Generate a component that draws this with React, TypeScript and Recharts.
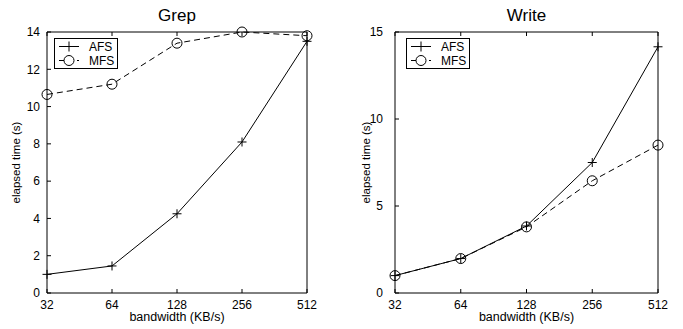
import { LineChart, Line, XAxis, YAxis, Legend, Label } from "recharts";

const FONT = "'Liberation Sans', Arial, Helvetica, sans-serif";

const bandwidth = ["32", "64", "128", "256", "512"];
const grepAfs = [1.0, 1.45, 4.25, 8.1, 13.5];
const grepMfs = [10.65, 11.2, 13.4, 14.0, 13.8];
const writeAfs = [1.0, 1.98, 3.85, 7.5, 14.15];
const writeMfs = [1.0, 1.98, 3.8, 6.45, 8.5];
const grepTicks = [0, 2, 4, 6, 8, 10, 12, 14];
const writeTicks = [0, 5, 10, 15];

const PlusDot = (p: any) => {
  const { cx, cy, index } = p;
  if (cx == null || cy == null) return <g key={`p-${index}`} />;
  return (
    <path
      key={`p-${index}`}
      d={`M${cx - 4.5},${cy}H${cx + 4.5}M${cx},${cy - 4.5}V${cy + 4.5}`}
      stroke="#000"
      strokeWidth={1}
      fill="none"
    />
  );
};

const CircleDot = (p: any) => {
  const { cx, cy, index } = p;
  if (cx == null || cy == null) return <g key={`c-${index}`} />;
  return <circle key={`c-${index}`} cx={cx} cy={cy} r={5} stroke="#000" strokeWidth={1} fill="none" />;
};

const LegendBox = ({ payload }: any) => (
  <svg width={64} height={31} style={{ display: "block" }}>
    <rect x={0.5} y={0.5} width={63} height={30} fill="#fff" stroke="#000" />
    {(payload || []).map((entry: any, i: number) => {
      const y = 8.5 + i * 14;
      const isMfs = entry.value === "MFS";
      return (
        <g key={entry.value}>
          <line x1={5} x2={25} y1={y} y2={y} stroke="#000" strokeDasharray={isMfs ? "5 4" : undefined} />
          {isMfs ? (
            <circle cx={15} cy={y} r={5} fill="#fff" stroke="#000" />
          ) : (
            <path d={`M15,${y - 5}V${y + 5}`} stroke="#000" />
          )}
          <text x={35} y={y + 4.5} fontSize={12} fontFamily={FONT} fill="#000">
            {entry.value}
          </text>
        </g>
      );
    })}
  </svg>
);

type PanelProps = {
  title: string;
  afs: number[];
  mfs: number[];
  yMax: number;
  yTicks: number[];
  left: number;
  width: number;
  yAxisW: number;
  rightW: number;
  yTickMargin: number;
  yLabelX: number;
  legendLeft: number;
};

function Panel({ title, afs, mfs, yMax, yTicks, left, width, yAxisW, rightW, yTickMargin, yLabelX, legendLeft }: PanelProps) {
  const data = bandwidth.map((bw, i) => ({ bw, afs: afs[i], mfs: mfs[i] }));
  const plotTop = 32;
  const plotBottom = 293;
  const centerX = (yAxisW + (width - rightW)) / 2;
  const tickStyle = { fontSize: 12, fill: "#000", fontFamily: FONT };
  return (
    <div style={{ position: "absolute", left, top: 0 }}>
      <LineChart width={width} height={329} data={data} margin={{ top: plotTop - 1, right: 0, bottom: 0, left: 0 }}>
        <XAxis
          dataKey="bw"
          type="category"
          height={329 - plotBottom}
          interval={0}
          stroke="#000"
          tickSize={-4}
          tickMargin={11}
          tick={tickStyle}
        >
          <Label
            content={() => (
              <text x={centerX} y={321} textAnchor="middle" fontSize={12.5} fontFamily={FONT} fill="#000">
                bandwidth (KB/s)
              </text>
            )}
          />
        </XAxis>
        <XAxis
          xAxisId="top"
          dataKey="bw"
          type="category"
          orientation="top"
          height={1}
          interval={0}
          stroke="#000"
          tickSize={-4}
          tick={() => <g />}
        >
          <Label
            content={() => (
              <text x={centerX} y={21} textAnchor="middle" fontSize={17} fontFamily={FONT} fill="#000">
                {title}
              </text>
            )}
          />
        </XAxis>
        <YAxis
          width={yAxisW}
          domain={[0, yMax]}
          ticks={yTicks}
          interval={0}
          stroke="#000"
          tickSize={-4}
          tickMargin={yTickMargin}
          tick={tickStyle}
        >
          <Label
            content={() => {
              const cy = (plotTop + plotBottom) / 2;
              return (
                <text
                  x={yLabelX}
                  y={cy}
                  transform={`rotate(-90 ${yLabelX} ${cy})`}
                  textAnchor="middle"
                  fontSize={11.5}
                  fontFamily={FONT}
                  fill="#000"
                >
                  elapsed time (s)
                </text>
              );
            }}
          />
        </YAxis>
        <YAxis
          yAxisId="right"
          orientation="right"
          width={rightW}
          domain={[0, yMax]}
          ticks={yTicks}
          interval={0}
          stroke="#000"
          tickSize={-4}
          tick={() => <g />}
        />
        <Legend
          layout="vertical"
          align="center"
          verticalAlign="middle"
          wrapperStyle={{ left: legendLeft, top: 38, width: 64, height: 31 }}
          content={(props: any) => <LegendBox payload={props.payload} />}
        />
        <Line
          name="AFS"
          dataKey="afs"
          type="linear"
          stroke="#000"
          strokeWidth={1}
          dot={PlusDot}
          activeDot={false}
          isAnimationActive={false}
        />
        <Line
          name="MFS"
          dataKey="mfs"
          type="linear"
          stroke="#000"
          strokeWidth={1}
          strokeDasharray="6 4"
          dot={CircleDot}
          activeDot={false}
          isAnimationActive={false}
        />
      </LineChart>
    </div>
  );
}

export default function App() {
  return (
    <div style={{ position: "absolute", left: 0, top: 0, width: 683, height: 329, background: "#fff" }}>
      <Panel
        title="Grep"
        afs={grepAfs}
        mfs={grepMfs}
        yMax={14}
        yTicks={grepTicks}
        left={0}
        width={340}
        yAxisW={47}
        rightW={33}
        yTickMargin={11}
        yLabelX={20}
        legendLeft={54}
      />
      <Panel
        title="Write"
        afs={writeAfs}
        mfs={writeMfs}
        yMax={15}
        yTicks={writeTicks}
        left={340}
        width={343}
        yAxisW={55}
        rightW={25}
        yTickMargin={16}
        yLabelX={30}
        legendLeft={66}
      />
    </div>
  );
}
